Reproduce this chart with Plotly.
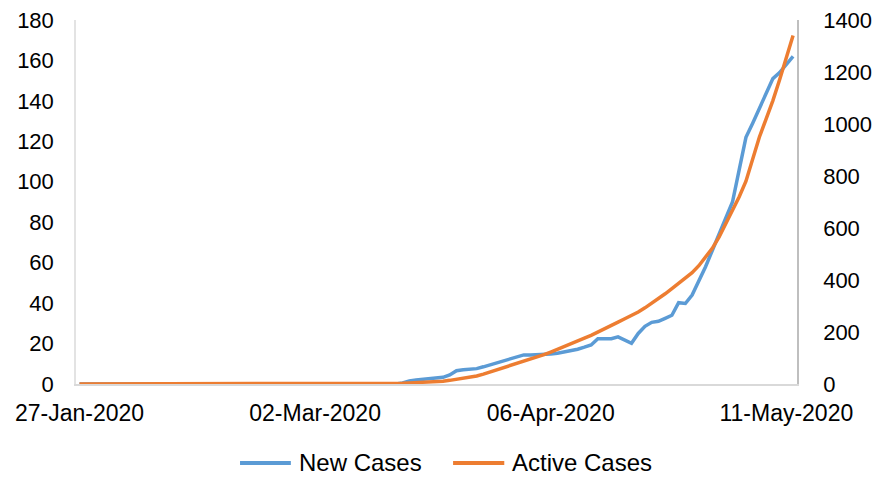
import pandas as pd
import plotly.graph_objects as go

# Daily series, 27-Jan-2020 .. 12-May-2020
dates = pd.date_range("2020-01-27", "2020-05-12", freq="D")

new_cases = [0.0] * 48 + [
    0.5, 1.5, 2.0, 2.3, 2.5, 3.0, 3.3, 4.5, 6.6, 7.0,      # day 48-57
    7.3, 7.6, 8.5, 9.5, 10.5, 11.8, 12.8, 13.6, 14.4, 14.4,  # 58-67
    14.4, 14.5, 14.8, 15.2, 15.8, 16.5, 17.2, 18.2, 19.3, 22.4,  # 68-77
    22.2, 22.4, 23.3, 21.5, 20.1, 25.0, 28.5, 30.5, 31.0, 32.5,  # 78-87
    34.0, 40.2, 39.8, 44.0, 51.0, 58.0, 66.0, 74.0, 82.0, 90.0,  # 88-97
    106.0, 122.0, 129.0, 136.0, 144.0, 151.0, 154.0, 158.0, 162.0,  # 98-106
]

active_cases = [0.0] * 46 + [
    1, 2, 3, 4, 5, 7, 8, 10, 11, 14,                  # day 46-55
    18, 22, 27, 31, 38, 46, 54, 63, 72, 80,           # 56-65
    88, 96, 104, 113, 123, 133, 143, 153, 164, 176,   # 66-75
    187, 199, 212, 225, 238, 251, 263, 277, 293, 310,  # 76-85
    328, 347, 367, 388, 407, 428, 455, 487, 522, 565,  # 86-95
    615, 665, 720, 780, 870, 950, 1020, 1090, 1170, 1260,  # 96-105
    1340,                                               # 106
]

tick_dates = ["2020-01-27", "2020-03-02", "2020-04-06", "2020-05-11"]
tick_labels = ["27-Jan-2020", "02-Mar-2020", "06-Apr-2020", "11-May-2020"]

series_names = ["New Cases", "Active Cases"]
series_colors = ["#5B9BD5", "#ED7D31"]

fig = go.Figure()
fig.add_trace(go.Scatter(
    x=dates, y=new_cases, name=series_names[0], mode="lines",
    line=dict(color=series_colors[0], width=3.5), showlegend=False,
))
fig.add_trace(go.Scatter(
    x=dates, y=active_cases, name=series_names[1], mode="lines",
    line=dict(color=series_colors[1], width=3.5), yaxis="y2", showlegend=False,
))

family = "Liberation Sans, Arial, sans-serif"
yfont = dict(family=family, size=22, color="#000000")
xfont = dict(family=family, size=23, color="#000000")
legfont = dict(family=family, size=24, color="#000000")

# Legend drawn below the plot: a long line sample followed by the label
legend_y = -0.217
legend_items = [(0.2275, 0.298, 0.3065), (0.523, 0.594, 0.602)]
for (x0, x1, xt), name, color in zip(legend_items, series_names, series_colors):
    fig.add_shape(type="line", xref="paper", yref="paper",
                  x0=x0, x1=x1, y0=legend_y, y1=legend_y,
                  line=dict(color=color, width=4))
    fig.add_annotation(xref="paper", yref="paper", x=xt, y=legend_y,
                       xanchor="left", yanchor="middle", text=name,
                       showarrow=False, font=legfont)

fig.update_layout(
    width=875, height=479,
    margin=dict(l=76, r=78, t=20, b=95, autoexpand=False),
    paper_bgcolor="white", plot_bgcolor="white",
    font=yfont,
    showlegend=False,
    xaxis=dict(
        type="date",
        range=["2020-01-26 11:30", "2020-05-12 14:00"],
        tickvals=tick_dates, ticktext=tick_labels,
        showgrid=False, zeroline=False,
        showline=True, linecolor="#D9D9D9", linewidth=1.5,
        ticks="", tickfont=xfont, ticklabelstandoff=8,
    ),
    yaxis=dict(
        range=[0, 180], dtick=20, showgrid=False, zeroline=False,
        showline=True, linecolor="#E3E3E3", linewidth=1.5,
        ticks="", tickfont=yfont, ticklabelstandoff=16,
    ),
    yaxis2=dict(
        range=[0, 1400], dtick=200, overlaying="y", side="right",
        showgrid=False, zeroline=False,
        showline=True, linecolor="#BFBFBF", linewidth=1.5,
        ticks="", tickfont=yfont, ticklabelstandoff=20,
    ),
)

fig.write_html("out.html")
